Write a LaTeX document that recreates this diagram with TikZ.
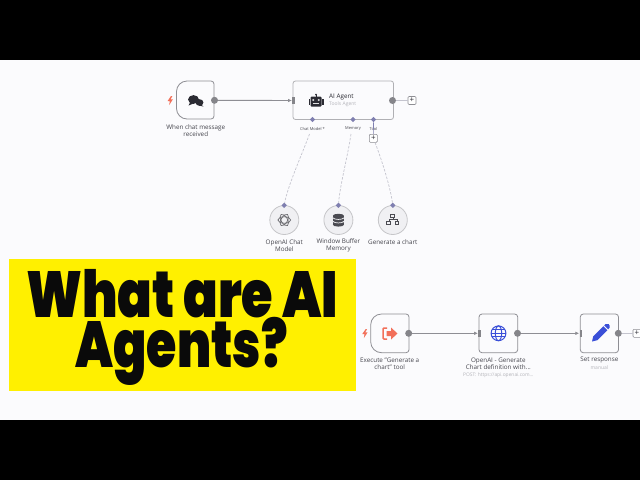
\documentclass[tikz,border=0pt]{standalone}
\usepackage{fontspec}
\usepackage{graphicx}
\setmainfont{Open Sans}
\newfontfamily\titlefont[UprightFont=* Black]{Poppins}
\usetikzlibrary{arrows.meta,shapes.geometric}
\definecolor{pagebg}{HTML}{FBFBFD}
\definecolor{edge}{HTML}{8E8E94}
\definecolor{dot}{HTML}{85858A}
\definecolor{port}{HTML}{7F7FB0}
\definecolor{dashc}{HTML}{C4C4CE}
\definecolor{lab}{HTML}{45454D}
\definecolor{sublab}{HTML}{B4B4BA}
\definecolor{hot}{HTML}{F2705A}
\definecolor{blueic}{HTML}{3A4FD8}
\definecolor{dark}{HTML}{2B2B33}
\definecolor{title}{HTML}{0A0A0A}
\definecolor{banner}{HTML}{FFF000}
\definecolor{circfill}{HTML}{F0F0F3}
\tikzset{
  x=1pt,y=-1pt,
  outline/.style={draw=edge,line width=0.8pt,fill=pagebg},
  boxnode/.style={minimum width=38pt,minimum height=38.5pt,inner sep=0pt},
  outdot/.style={circle,fill=dot,minimum size=7pt,inner sep=0pt},
  inbar/.style={rectangle,fill=dot,minimum width=2.6pt,minimum height=7.5pt,inner sep=0pt},
  diam/.style={diamond,fill=port,minimum size=5.5pt,inner sep=0pt},
  plusbox/.style={draw=edge,line width=0.6pt,rounded corners=1pt,fill=white,minimum size=8pt,inner sep=0pt,text=dark,font=\fontsize{8}{8}\selectfont},
  conn/.style={draw=edge,line width=0.9pt,-{Latex[length=4pt,width=3.6pt]}},
  stub/.style={draw=dashc,line width=0.7pt},
  dashconn/.style={draw=dashc,line width=0.7pt,dash pattern=on 2.5pt off 1.5pt},
  lbl/.style={text=lab,align=center,inner sep=0pt,font=\fontsize{6.3}{7.6}\selectfont},
  sub/.style={text=sublab,align=center,inner sep=0pt,font=\fontsize{5}{6}\selectfont},
  port label/.style={text=lab,align=center,inner sep=0pt,font=\fontsize{4}{5}\selectfont},
  subcircle/.style={circle,draw=edge!50,line width=0.8pt,fill=circfill,minimum size=29pt,inner sep=0pt},
  ttl/.style={text=title,inner sep=0pt,anchor=base,font=\titlefont\fontsize{65}{65}\selectfont},
}
\newcommand{\bolt}[2]{\fill[hot] (#1+1,#2-4.5) -- (#1-2.4,#2+0.5) -- (#1-0.2,#2+0.5) -- (#1-0.8,#2+4.5) -- (#1+2.9,#2-1.2) -- (#1+0.6,#2-1.2) -- (#1+2.4,#2-4.5) -- cycle;}
\begin{document}
\begin{tikzpicture}
\useasboundingbox (0,0) rectangle (640,480);
\fill[pagebg] (0,60) rectangle (640,420);
\fill[black] (0,0) rectangle (640,60);
\fill[black] (0,420) rectangle (640,480);

% --- upper flow
\draw[outline,rounded corners=3pt] (195,81) -- (214,81) -- (214,119) [rounded corners=10.5pt] -- (176.5,119) -- (176.5,81) [rounded corners=3pt] -- (195,81);
\node[boxnode] (trigger) at (195.2,100) {};
\node[outdot] (trigout) at (214.5,100.3) {};
\bolt{170}{100.5}
% chat icon
\fill[dark] (193.5,99.5) ellipse[x radius=5.4,y radius=4.4];
\fill[dark] (190,102.5) -- (188.5,105.5) -- (193.5,103.5) -- cycle;
\fill[dark] (199.5,102.5) ellipse[x radius=3.9,y radius=3.3];
\fill[dark] (201,104.5) -- (203.5,106.5) -- (198.5,105.5) -- cycle;
\node[lbl] (triglab) at (195.8,130.5) {When chat message\\received};

\draw[outline,draw=edge!70,rounded corners=2.5pt] (293,81) rectangle (393.5,119.5);
\node[minimum width=100pt,minimum height=38pt,inner sep=0pt] (agent) at (343.2,100.2) {};
\node[inbar] (agentin) at (293.5,100.5) {};
\node[outdot] (agentout) at (392.5,100.5) {};
% robot icon
\fill[dark,rounded corners=1pt] (310.5,96.5) rectangle (321.5,106.5);
\fill[dark] (308.5,98.5) rectangle (309.8,104.5);
\fill[dark] (322.2,98.5) rectangle (323.5,104.5);
\fill[dark] (315.5,94.5) rectangle (316.5,96.5);
\fill[dark] (316,94.5) circle[radius=1];
\fill[white!85!dark] (313.2,100) circle[radius=1.1] (318.8,100) circle[radius=1.1];
\fill[white!85!dark] (313,103.4) rectangle (319,104.4);
\node[anchor=west,inner sep=0pt,text=dark,font=\fontsize{6.3}{7}\selectfont] (agenttitle) at (329,97) {AI Agent};
\node[anchor=west,sub] (agentsub) at (329,104.5) {Tools Agent};

\node[plusbox] (plusa) at (412,100.5) {+};
\draw[stub] (agentout) -- (plusa);

\node[diam] (pm) at (312.5,119.5) {};
\node[diam] (pk) at (353,119.5) {};
\node[diam] (pt) at (373.5,119.5) {};
\node[port label] (lm) at (312.5,128.5) {Chat Model *};
\node[port label] (lk) at (353,128.5) {Memory};
\node[port label] (lt) at (373.5,128.5) {Tool};
\node[plusbox] (plust) at (373.3,138.3) {+};
\draw[draw=port,line width=0.7pt] (pt) -- (plust);

\node[subcircle] (c1) at (284.3,220) {};
\node[subcircle] (c2) at (338.4,220) {};
\node[subcircle] (c3) at (392.8,220) {};
\node[diam] (d1) at (284.2,205.3) {};
\node[diam] (d2) at (338.4,205.3) {};
\node[diam] (d3) at (392.8,205.3) {};
\coordinate (m1) at (309.5,134);
\coordinate (m2) at (351,134);
\draw[dashconn] (m1) .. controls (303,152) and (288,185) .. (d1);
\draw[dashconn] (m2) .. controls (348,155) and (340,185) .. (d2);
\draw[dashconn] (plust) .. controls (380,155) and (390,185) .. (d3);
% OpenAI knot icon
\begin{scope}[shift={(284.3,220)}]
\foreach \a in {0,60,120}{
  \draw[draw=dark!70,line width=0.7pt,rotate=\a] (0,0) ellipse[x radius=6.4,y radius=3.2];
}
\end{scope}
% database icon
\begin{scope}[shift={(338.4,220)}]
\foreach \yy in {2.6,-0.9,-4.4}{
  \fill[dark!85] (-5.5,\yy) rectangle (5.5,\yy+2.2);
  \fill[dark!85] (0,\yy) ellipse[x radius=5.5,y radius=1.8];
  \fill[dark!85] (0,\yy+2.2) ellipse[x radius=5.5,y radius=1.8];
}
\draw[circfill,line width=0.7pt] (-5.5,-2.2) .. controls (-4,0) and (4,0) .. (5.5,-2.2);
\draw[circfill,line width=0.7pt] (-5.5,1.3) .. controls (-4,3.5) and (4,3.5) .. (5.5,1.3);
\end{scope}
% network icon
\begin{scope}[shift={(392.8,220)},dark!85,line width=0.9pt]
\draw (-2,-5.5) rectangle (2,-2.2);
\draw (-6,1.2) rectangle (-2.2,4.6);
\draw (2.2,1.2) rectangle (6,4.6);
\draw[line width=0.6pt] (-4,1.2) -- (-4,-0.5) -- (4,-0.5) -- (4,1.2) (0,-2.2) -- (0,-0.5);
\end{scope}
\node[lbl] (l1) at (284.3,245.5) {OpenAI Chat\\Model};
\node[lbl] (l2) at (338.4,245.5) {Window Buffer\\Memory};
\node[lbl] (l3) at (392.8,241.7) {Generate a chart};

\draw[conn] (trigout) -- (agentin);

% --- lower flow
\draw[outline,rounded corners=3pt] (390,314) -- (409,314) -- (409,352.7) [rounded corners=10.8pt] -- (370.7,352.7) -- (370.7,314) [rounded corners=3pt] -- (390,314);
\node[boxnode] (exec) at (389.8,333.3) {};
\node[outdot] (execout) at (408.7,333.3) {};
\bolt{364.7}{333.5}
% exit icon
\draw[hot,line width=1.5pt,line join=round,rounded corners=1pt] (387,328) -- (383,328) -- (383,339) -- (387,339);
\fill[hot] (386.5,331) -- (391,331) -- (391,327.5) -- (397.5,333.5) -- (391,339.5) -- (391,336) -- (386.5,336) -- cycle;
\node[lbl] (execlab) at (389.7,363.7) {Execute "Generate a\\chart" tool};

\draw[outline,rounded corners=3pt] (479,314) rectangle (517.7,352.7);
\node[boxnode] (oai) at (498.3,333.3) {};
\node[inbar] (oaiin) at (479.5,333.3) {};
\node[outdot] (oaiout) at (517.5,333.3) {};
% globe icon
\begin{scope}[shift={(498.5,333.3)},blueic,line width=1pt]
\draw (0,0) circle[radius=7.4];
\draw (0,0) ellipse[x radius=3.2,y radius=7.4];
\draw (-7.4,0) -- (7.4,0) (-6.4,-3.5) -- (6.4,-3.5) (-6.4,3.5) -- (6.4,3.5);
\end{scope}
\node[lbl] (oailab) at (498.3,363.7) {OpenAI - Generate\\Chart definition with...};
\node[sub,font=\fontsize{4.9}{6}\selectfont] (oaisub) at (498.3,375.2) {POST: https://api.openai.com...};

\draw[outline,rounded corners=3pt] (580.3,314) rectangle (618.5,352.7);
\node[boxnode] (setr) at (599.4,333.3) {};
\node[inbar] (setin) at (580.8,333.3) {};
\node[outdot] (setout) at (618.3,333.3) {};
% pencil icon
\fill[blueic] (592,341.5) -- (593.3,336.2) -- (603.3,326.2) -- (607.3,330.2) -- (597.3,340.2) -- cycle;
\fill[blueic] (604.2,325.3) -- (605.6,324) -- (608.6,324) -- (609.6,325.6) -- (609.6,327.8) -- (608.2,329.3) -- cycle;
\node[lbl] (setlab) at (599.4,360.2) {Set response};
\node[sub] (setsub) at (599.4,367.4) {manual};
\node[plusbox] (plusb) at (637,333.3) {+};
\draw[stub] (setout) -- (plusb);

\draw[conn] (execout) -- (oaiin);
\draw[conn] (oaiout) -- (setin);

% --- banner
\fill[banner] (9,259) rectangle (356,391);
\node[ttl] (t1) at (182,317) {\scalebox{0.785}[1]{What are AI}};
\node[ttl] (t2) at (181.5,367) {\scalebox{0.755}[1]{Agents?}};
\end{tikzpicture}
\end{document}
